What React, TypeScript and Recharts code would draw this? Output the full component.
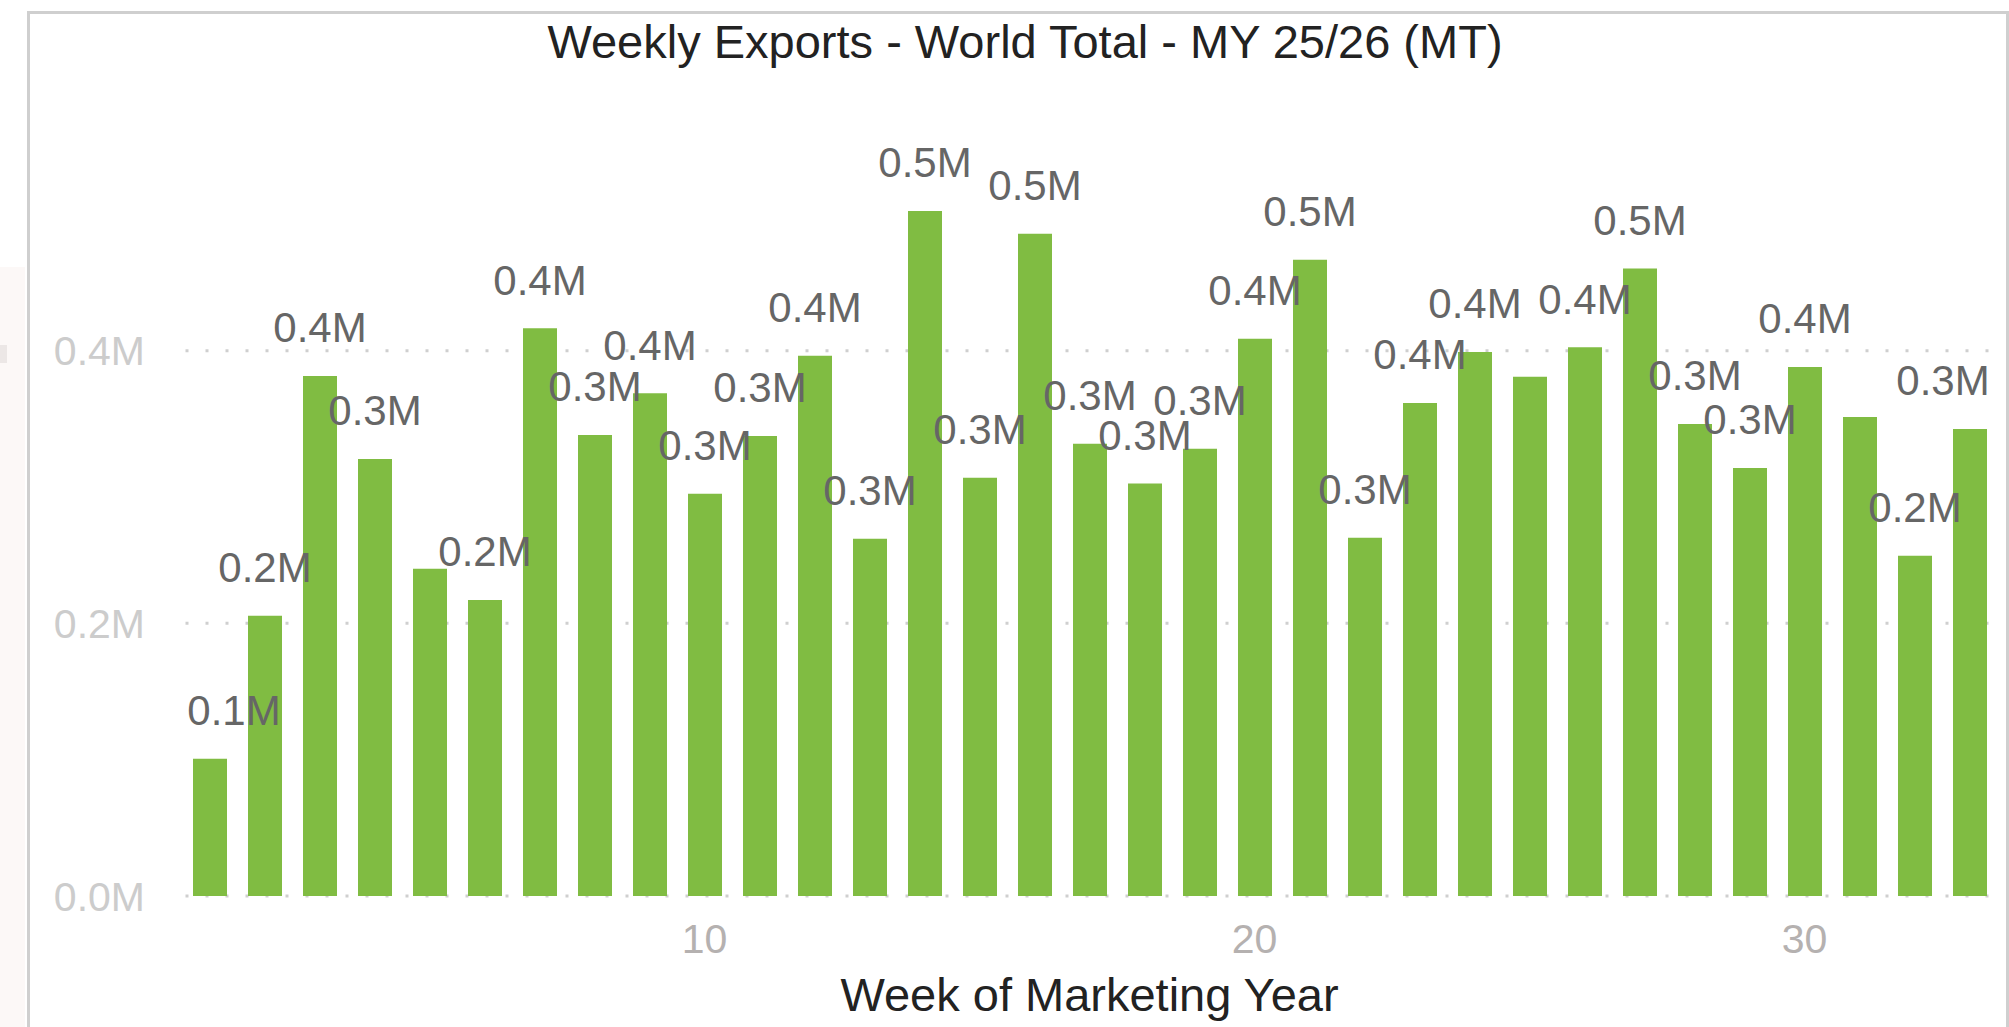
import React from 'react'
import { BarChart, Bar, XAxis, YAxis, CartesianGrid, LabelList } from 'recharts'

// week of marketing year
const weeks = [
  1, 2, 3, 4, 5, 6, 7, 8, 9, 10, 11, 12, 13, 14, 15, 16, 17,
  18, 19, 20, 21, 22, 23, 24, 25, 26, 27, 28, 29, 30, 31, 32, 33,
]
// weekly exports, metric tons
const exportsMT = [
  100600, 205500, 381500, 320600, 240000, 217200, 416500, 338200, 368800, 295000, 337500,
  396200, 262000, 502500, 306700, 485700, 331700, 302500, 328000, 408700, 466600, 262700,
  361700, 399100, 380800, 402500, 460200, 346300, 314000, 388100, 351400, 249500, 342600,
]
// weeks whose value label is dropped (collides with neighbours)
const hiddenLabelWeeks = [5, 25, 31]
const yTicks = [0, 200000, 400000]
const xTicks = [10, 20, 30]

const data = weeks.map((w, i) => ({ week: w, value: exportsMT[i] }))

const W = 2009
const H = 1027
const PLOT_LEFT = 182
const PLOT_RIGHT = 1997
const FONT = '"Liberation Sans", Arial, Helvetica, sans-serif'

const fmtM = (v: number) => `${(v / 1e6).toFixed(1)}M`

const renderLabel = (props: any) => {
  const { x, y, width, value, index } = props
  if (hiddenLabelWeeks.includes(weeks[index])) return null
  const half = 46
  let cx = Number(x) + Number(width) / 2
  cx = Math.max(PLOT_LEFT + 6 + half, Math.min(PLOT_RIGHT - 8 - half, cx))
  return (
    <text x={cx} y={Number(y) - 33.5} textAnchor="middle" fill="#666666"
      fontSize={42} fontFamily={FONT}>
      {fmtM(Number(value))}
    </text>
  )
}

export default function App() {
  return (
    <div style={{ position: 'absolute', left: 0, top: 0, width: W, height: H, overflow: 'hidden', background: '#fff' }}>
      <div style={{ position: 'absolute', left: 0, top: 267, width: 25, height: 800, background: '#fcf8f7' }} />
      <div style={{ position: 'absolute', left: 0, top: 345, width: 7, height: 18, background: '#ece7e6' }} />
      <div style={{
        position: 'absolute', left: 27, top: 11, width: W - 27, height: 1100,
        boxSizing: 'border-box', border: '3px solid #cfcfcf', background: '#fff',
      }} />
      <div style={{ position: 'absolute', left: 0, top: 0 }}>
        <BarChart width={W} height={H} data={data} margin={{ top: 78, right: W - PLOT_RIGHT, bottom: 0, left: 0 }}>
          <CartesianGrid vertical={false} horizontalValues={yTicks} stroke="#cfcfcf" strokeWidth={3} strokeDasharray="0 3.5 3 13.5" />
          <XAxis dataKey="week" ticks={xTicks} interval={0} height={H - 896}
            axisLine={false} tickLine={false} tickMargin={22}
            tick={{ fill: '#b5b1b0', fontSize: 41, fontFamily: FONT }} />
          <YAxis width={PLOT_LEFT} domain={[0, 600000]} ticks={yTicks} tickFormatter={fmtM}
            axisLine={false} tickLine={false} tickMargin={31}
            tick={{ fill: '#cccccc', fontSize: 41, fontFamily: FONT }} />
          <Bar dataKey="value" fill="#80bc42" barSize={34} isAnimationActive={false}>
            <LabelList dataKey="value" content={renderLabel} />
          </Bar>
        </BarChart>
      </div>
      <svg width={W} height={H} style={{ position: 'absolute', left: 0, top: 0, pointerEvents: 'none' }}>
        <text x={1025} y={58} textAnchor="middle" fill="#222222" fontSize={47} fontFamily={FONT}>
          Weekly Exports - World Total - MY 25/26 (MT)
        </text>
        <text x={1089.5} y={1010.5} textAnchor="middle" fill="#222222" fontSize={47} fontFamily={FONT}>
          Week of Marketing Year
        </text>
      </svg>
    </div>
  )
}
